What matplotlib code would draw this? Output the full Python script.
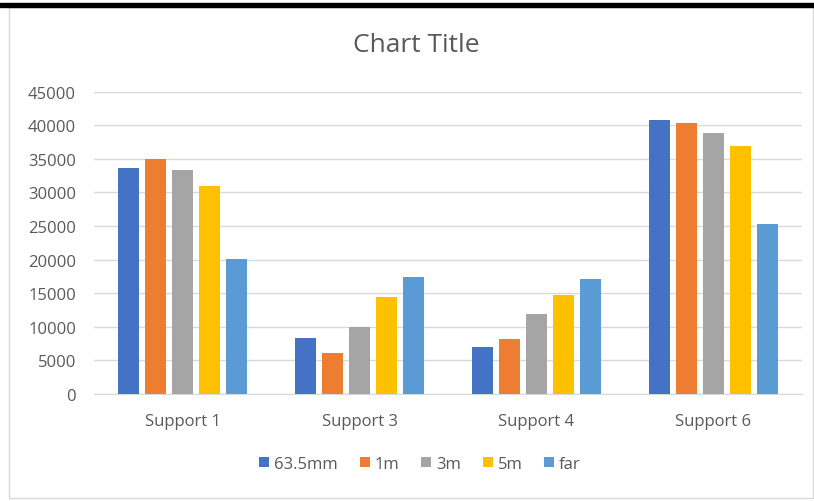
import numpy as np
import matplotlib.pyplot as plt
from matplotlib.patches import Rectangle

plt.rcParams['font.family'] = ['Open Sans', 'DejaVu Sans']

categories = ["Support 1", "Support 3", "Support 4", "Support 6"]
series_names = ["63.5mm", "1m", "3m", "5m", "far"]
vals_635mm = [33600, 8400, 6950, 40850]
vals_1m = [35000, 6100, 8200, 40300]
vals_3m = [33400, 9900, 11850, 38900]
vals_5m = [30950, 14500, 14700, 36850]
vals_far = [20100, 17350, 17150, 25250]
y_ticks = [0, 5000, 10000, 15000, 20000, 25000, 30000, 35000, 40000, 45000]

colors = ['#4472C4', '#ED7D31', '#A5A5A5', '#FFC000', '#5B9BD5']
text_col = '#595959'

fig = plt.figure(figsize=(8.14, 5.02), dpi=100)
# outer chart frame and the black strip along the top
fig.patches.append(Rectangle((9/814, 3/502), 804/814, 491/502,
                             transform=fig.transFigure, fill=False,
                             edgecolor='#D9D9D9', linewidth=1))
fig.patches.append(Rectangle((0, 1 - 7.5/502), 1, 3.5/502,
                             transform=fig.transFigure, color='black'))

ax = fig.add_axes([94/814, 1 - 395/502, 708/814, (395 - 92.7)/502])
x = np.arange(len(categories))
step = 0.1525
width = 0.124
all_vals = [vals_635mm, vals_1m, vals_3m, vals_5m, vals_far]
for i, (name, vals) in enumerate(zip(series_names, all_vals)):
  ax.bar(x + (i - 2) * step, vals, width=width, color=colors[i], label=name,
         zorder=3)

ax.set_xlim(-0.5, len(categories) - 0.5)
ax.set_ylim(0, 45000)
ax.set_yticks(y_ticks)
ax.set_yticklabels([str(t) for t in y_ticks])
ax.set_xticks(x)
ax.set_xticklabels(categories)
ax.grid(axis='y', color='#D9D9D9', linewidth=1, zorder=0)
for side in ('top', 'right', 'left'):
  ax.spines[side].set_visible(False)
ax.spines['bottom'].set_color('#D9D9D9')
ax.tick_params(axis='both', length=0, colors=text_col, labelsize=12)
ax.tick_params(axis='x', pad=14)
ax.tick_params(axis='y', pad=13)

fig.text(0.512, 1 - 46/502, "Chart Title", ha='center', va='center',
         fontsize=19, color=text_col)
fig.legend(loc='center', bbox_to_anchor=(0.516, 1 - 465/502), ncol=5,
           frameon=False, fontsize=12, handlelength=0.6, handleheight=0.6,
           handletextpad=0.3, columnspacing=1.3, labelcolor=text_col)

fig.savefig("out.png", dpi=100)
